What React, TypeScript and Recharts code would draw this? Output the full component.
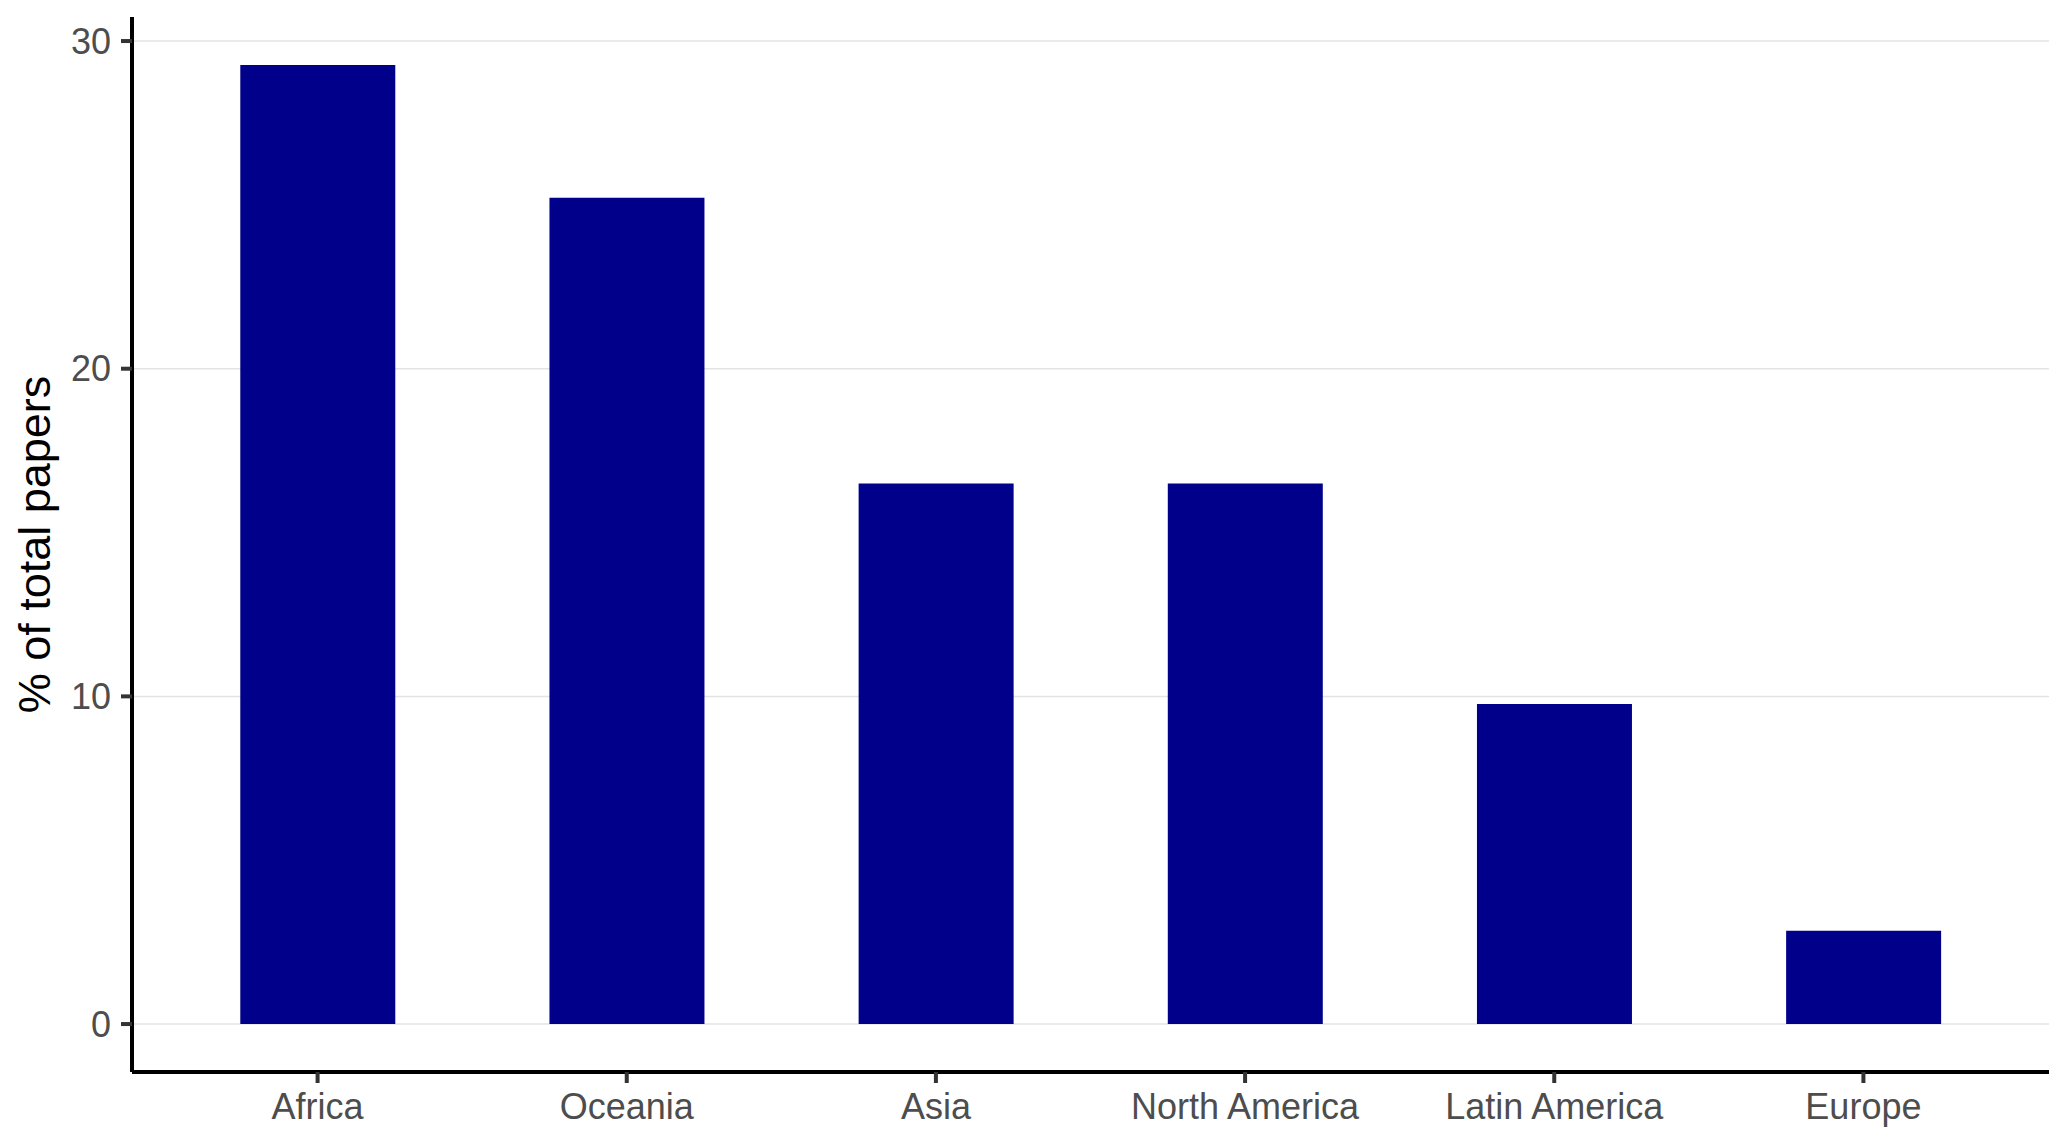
import React from "react";
import { BarChart, Bar, XAxis, YAxis, CartesianGrid } from "recharts";

const categories = ["Africa", "Oceania", "Asia", "North America", "Latin America", "Europe"];
const percentValues = [29.27, 25.22, 16.5, 16.5, 9.77, 2.85];
const yTicks = [0, 10, 20, 30];
const yTitle = "% of total papers";

const data = categories.map((c, i) => ({ region: c, pct: percentValues[i] }));

const maxVal = Math.max(...percentValues);
const expand = maxVal * 0.05;
const yDomain = [0 - expand, maxVal + expand];

const FONT = "'Liberation Sans', Arial, Helvetica, sans-serif";

const YTitle = (props: any) => {
  const vb = props.viewBox || { x: 0, y: 17, width: 132, height: 1055 };
  const cx = vb.x + 50;
  const cy = vb.y + vb.height / 2;
  return (
    <text
      x={cx}
      y={cy}
      transform={`rotate(-90, ${cx}, ${cy})`}
      textAnchor="middle"
      fontSize={45}
      fontFamily={FONT}
      fill="#000000"
    >
      {yTitle}
    </text>
  );
};

const gridRows = (args: any) => {
  const axis = args && args.yAxis;
  const sc = axis && axis.scale;
  if (sc && typeof sc === "function") {
    return yTicks.map((t) => sc(t));
  }
  if (sc && typeof sc.map === "function") {
    return yTicks.map((t) => sc.map(t));
  }
  return [];
};

export default function App() {
  return (
    <div style={{ position: "absolute", left: 0, top: 0, width: 2067, height: 1144, background: "#ffffff" }}>
      <BarChart
        width={2067}
        height={1144}
        data={data}
        margin={{ top: 17, right: 18, bottom: 0, left: 0 }}
        barCategoryGap="25%"
      >
        <CartesianGrid
          vertical={false}
          stroke="#E3E3E3"
          strokeWidth={1.5}
          horizontalCoordinatesGenerator={gridRows}
        />
        <XAxis
          dataKey="region"
          height={72}
          padding={{ left: 31, right: 31 }}
          axisLine={{ stroke: "#000000", strokeWidth: 4 }}
          tickLine={{ stroke: "#333333", strokeWidth: 4 }}
          tickSize={11}
          tickMargin={10}
          tick={{ fill: "#4D4D4D", fontSize: 36, fontFamily: FONT }}
          interval={0}
        />
        <YAxis
          type="number"
          width={132}
          domain={yDomain}
          ticks={yTicks}
          allowDataOverflow={true}
          axisLine={{ stroke: "#000000", strokeWidth: 4 }}
          tickLine={{ stroke: "#333333", strokeWidth: 4 }}
          tickSize={11}
          tickMargin={10}
          tick={{ fill: "#4D4D4D", fontSize: 36, fontFamily: FONT }}
          label={{ content: (p: any) => <YTitle {...p} /> }}
        />
        <Bar dataKey="pct" fill="#00008B" isAnimationActive={false} />
      </BarChart>
    </div>
  );
}
